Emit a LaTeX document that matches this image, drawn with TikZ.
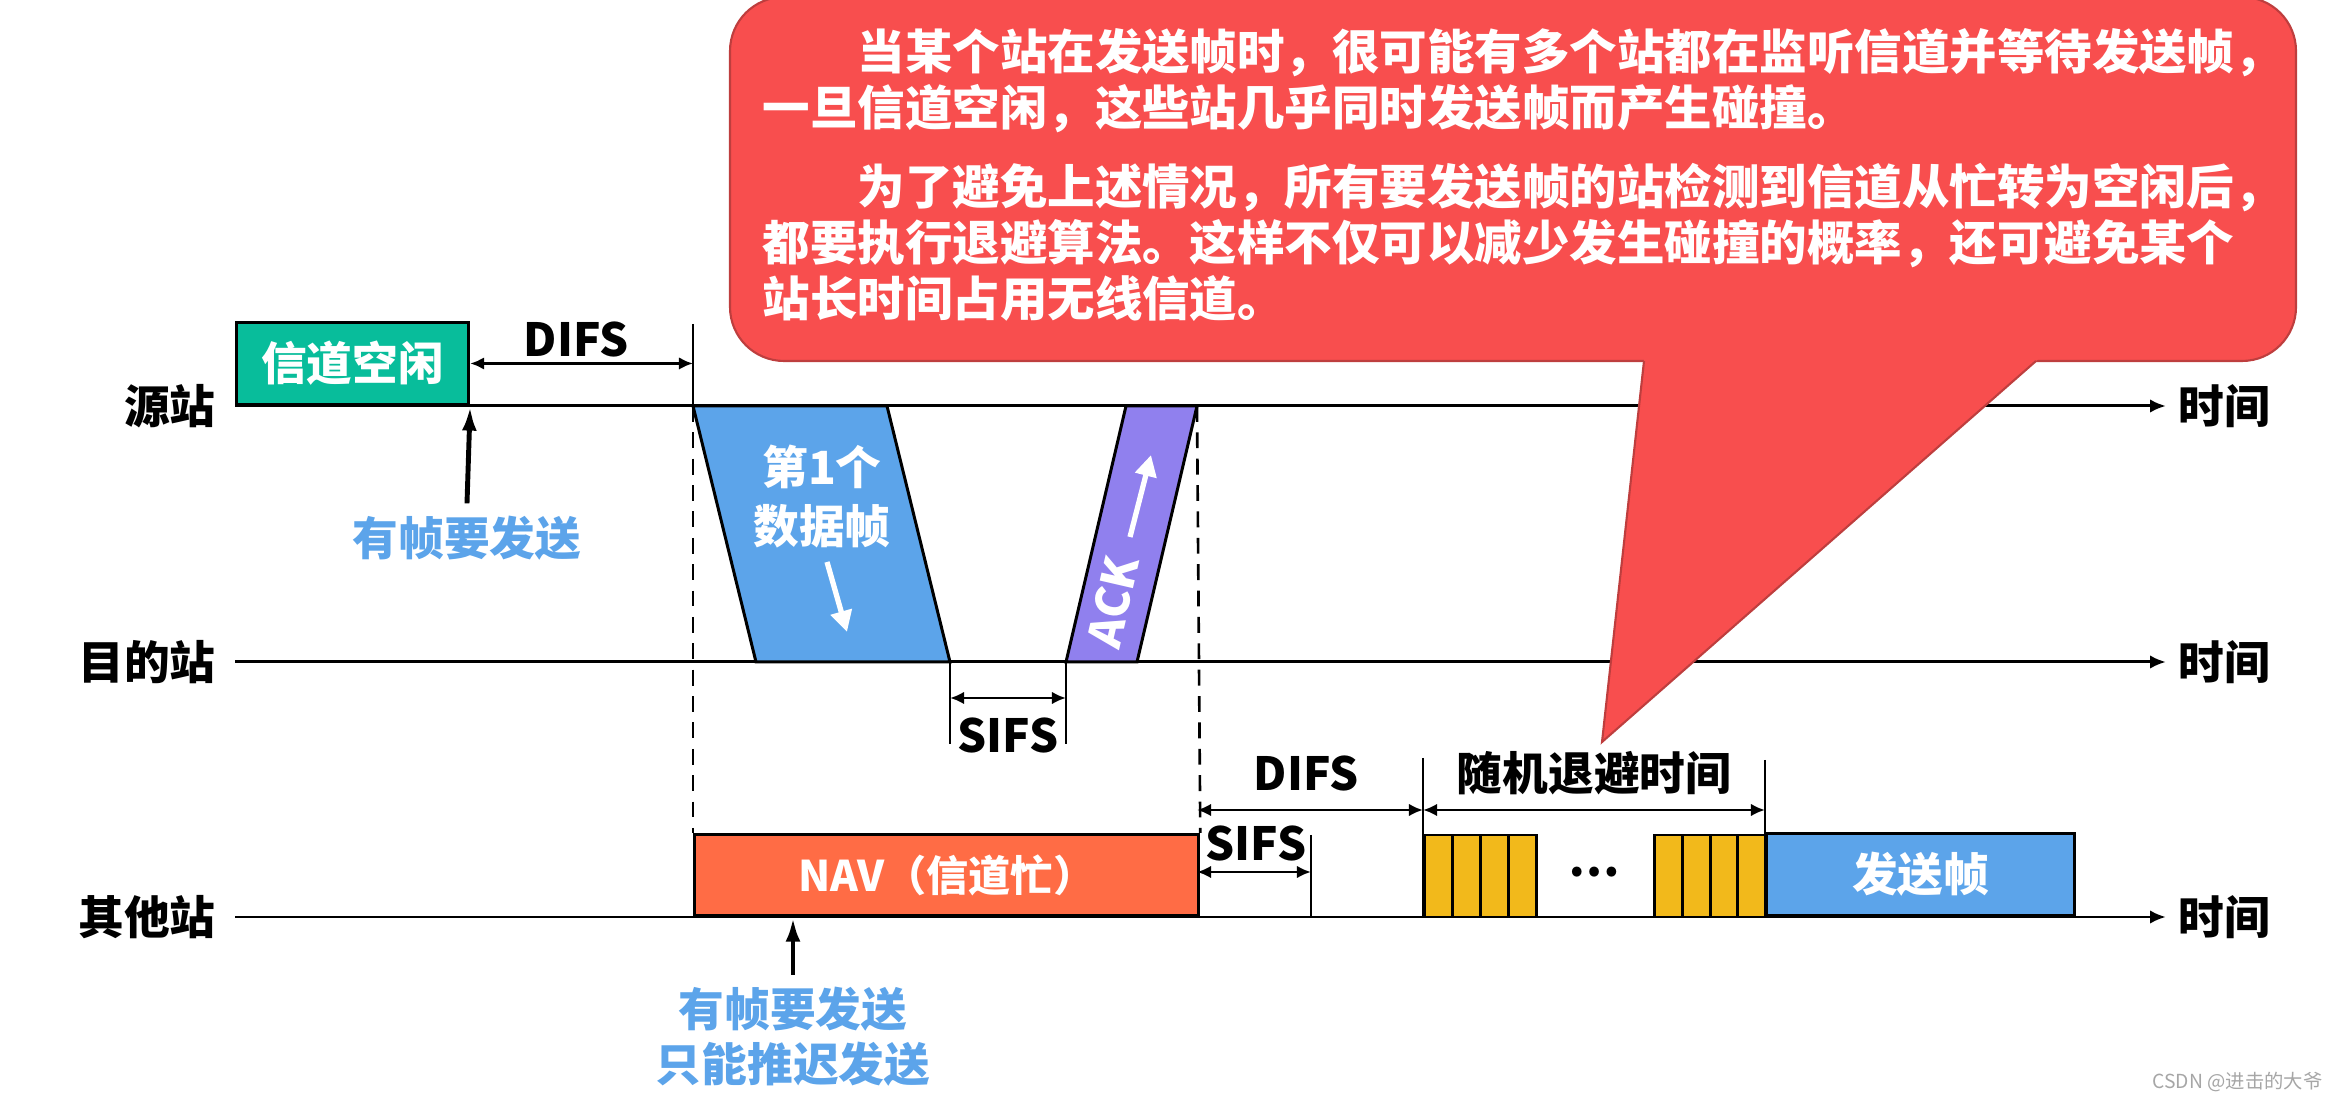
\documentclass[tikz,border=0pt]{standalone}
\usepackage{fontspec}
\setmainfont{Noto Sans CJK SC}
\usetikzlibrary{arrows.meta}

\definecolor{idlegreen}{RGB}{8,189,155}
\definecolor{datablue}{RGB}{92,164,234}
\definecolor{ackpurple}{RGB}{144,128,238}
\definecolor{navorange}{RGB}{255,108,69}
\definecolor{slotyellow}{RGB}{242,185,27}
\definecolor{calloutred}{RGB}{248,78,78}
\definecolor{calloutedge}{RGB}{190,62,62}
\definecolor{hintblue}{RGB}{92,164,234}

\begin{document}
\begin{tikzpicture}[
    x=0.01cm, y=-0.01cm,
    font=\bfseries\fontsize{13}{15.6}\selectfont,
    lane/.style={line width=0.85pt, -{Latex[length=4.5pt,width=3.8pt]}},
    dim/.style={line width=0.8pt, {Latex[length=4pt,width=3.6pt]}-{Latex[length=4pt,width=3.6pt]}},
    tick/.style={line width=0.8pt},
    guide/.style={line width=0.75pt, dash pattern=on 4.5pt off 3pt},
    frame/.style={draw, line width=0.85pt},
    inner/.style={text=white},
    flow/.style={white, line width=1.5pt, -{Triangle[length=6pt,width=6pt]}},
    push/.style={line width=1.4pt, -{Latex[length=7pt,width=4.2pt]}},
    hint/.style={text=hintblue, align=center},
    slot/.style={frame, fill=slotyellow}
]
\useasboundingbox (0,0) rectangle (2345,1101);

\foreach \name/\lab/\y in {src/源站/406, dst/目的站/662, oth/其他站/917} {
    \node[anchor=east] (\name) at (228,\y) {\lab};
    \coordinate (\name-start) at (235,\y);
    \node[anchor=west] (\name-time) at (2166,\y) {时间};
    \draw[lane] (\name-start) -- (\name-time.west);
}

\node[frame, fill=idlegreen, inner, minimum width=2.32cm, minimum height=0.82cm, anchor=south west] (idle) at (235,406) {信道空闲};
\draw[tick] (693,324) coordinate (difs-top) -- (693,406);
\draw[dim] (idle.east) -- (idle.east -| difs-top);
\node (difs1) at (576,340) {DIFS};
\node[hint] (want1) at (467,538) {有帧要发送};
\draw[push] (want1.north) -- (idle.south east);

\draw[frame, fill=datablue] (693,406) -- (887,406) -- (950,662) -- (756,662) -- cycle;
\node[inner, align=center, font=\bfseries\fontsize{13}{16.8}\selectfont] (data) at (822,497) {第1个\\数据帧};
\draw[flow] (827,562) -- (847,632);

\draw[frame, fill=ackpurple] (1066,662) -- (1137,662) -- (1197,406) -- (1126,406) -- cycle;
\node[inner, rotate=77] (ack) at (1113,602) {ACK};
\draw[flow] (1130,537) -- (1151,455);

\draw[tick] (950,662) coordinate (sifs-a) -- (950,744);
\draw[tick] (1066,662) coordinate (sifs-b) -- (1066,744);
\draw[dim] (950,698) -- (1066,698);
\node (sifs1) at (1008,735) {SIFS};

\node[frame, fill=navorange, inner, minimum width=5.04cm, minimum height=0.81cm, anchor=south west, font=\bfseries\fontsize{12}{14}\selectfont] (nav) at (693,917) {NAV（信道忙）};
\draw[guide] (693,406) -- (nav.north west);
\draw[guide] (1197,406) -- (nav.north east);
\node[hint, font=\bfseries\fontsize{13}{15.6}\selectfont] (want2) at (793,1037) {有帧要发送\\只能推迟发送};
\draw[push] (want2.north) -- (want2.north |- nav.south);

\draw[tick] (1423,758) coordinate (backoff-a) -- (1423,917);
\draw[tick] (1765,760) coordinate (backoff-b) -- (1765,917);
\draw[tick] (1311,835) coordinate (sifs-c) -- (1311,917);
\draw[dim] (1197,810) -- (1423,810);
\node (difs2) at (1306,773) {DIFS};
\draw[dim] (1197,872) -- (1311,872);
\node (sifs2) at (1256,843) {SIFS};
\draw[dim] (1423,810) -- (1765,810);
\node (backoff) at (1594,773) {随机退避时间};

\foreach \x in {1424,1452,1480,1508,1654,1682,1710,1737}
    \draw[slot] (\x,835) rectangle ++(28,82);
\node (gap) at (1594,872) {…};
\node[frame, fill=datablue, inner, minimum width=3.08cm, minimum height=0.82cm, anchor=south west] (send) at (1765,917) {发送帧};

\filldraw[fill=calloutred, draw=calloutedge, line width=0.6pt, rounded corners=0.54cm] (730,-3) rectangle (2296,361);
\fill[calloutred] (1644.5,355) -- (1602,742) -- (2043,355) -- cycle;
\draw[calloutedge, line width=0.6pt] (1644,361) -- (1602,742) -- (2036,361);
\node[inner, align=left, anchor=west, inner sep=0pt, font=\bfseries\fontsize{13.5}{15.9}\selectfont] (note) at (762,175) {%
\hspace*{2em}当某个站在发送帧时，很可能有多个站都在监听信道并等待发送帧，\\
一旦信道空闲，这些站几乎同时发送帧而产生碰撞。\\[6.6pt]
\hspace*{2em}为了避免上述情况，所有要发送帧的站检测到信道从忙转为空闲后，\\
都要执行退避算法。这样不仅可以减少发生碰撞的概率，还可避免某个\\
站长时间占用无线信道。};

\node[text=gray!70, anchor=east, font=\fontsize{5.5}{6}\selectfont] (mark) at (2335,1082) {CSDN @进击的大爷};
\end{tikzpicture}
\end{document}
